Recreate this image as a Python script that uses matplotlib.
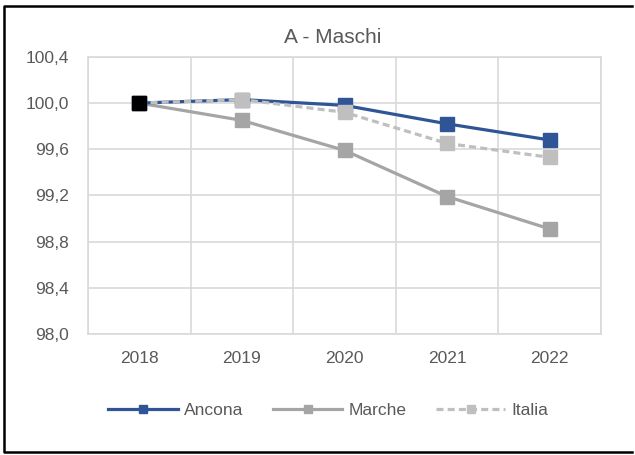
import numpy as np
import matplotlib
matplotlib.use("Agg")
import matplotlib.pyplot as plt
from matplotlib.lines import Line2D

plt.rcParams["font.family"] = ["Liberation Sans", "DejaVu Sans"]

# dati
anni = ["2018", "2019", "2020", "2021", "2022"]
ancona = [100.0, 100.03, 99.98, 99.82, 99.68]
marche = [100.0, 99.85, 99.59, 99.19, 98.91]
italia = [100.0, 100.03, 99.92, 99.65, 99.53]
base_anno = 0
base_valore = 100.0
y_ticks = [98.0, 98.4, 98.8, 99.2, 99.6, 100.0, 100.4]

testo = "#595959"
blu = "#2f5597"
grigio = "#a5a5a5"
grigio_chiaro = "#bfbfbf"

fig = plt.figure(figsize=(6.35, 4.55), dpi=100)
ax = fig.add_axes([0.1386, 0.266, 0.808, 0.609])

x = np.arange(len(anni))
ax.plot(x, marche, color=grigio, lw=2.3, marker="s", ms=9.5, label="Marche", zorder=3)
ax.plot(x, ancona, color=blu, lw=2.3, marker="s", ms=9.5, label="Ancona", zorder=4)
ax.plot(x, italia, color=grigio_chiaro, lw=2.3, ls=(0, (2.2, 1.3)), marker="s", ms=9.5,
        label="Italia", zorder=5)
ax.plot([base_anno], [base_valore], color="black", marker="s", ms=9.5, ls="none", zorder=6)

ax.set_xlim(-0.5, len(anni) - 0.5)
ax.set_ylim(98.0, 100.4)
ax.set_yticks(y_ticks)
ax.set_yticklabels([f"{v:.1f}".replace(".", ",") for v in y_ticks])
ax.set_xticks(x)
ax.set_xticklabels(anni)
ax.set_xticks(np.arange(len(anni) + 1) - 0.5, minor=True)

ax.grid(True, axis="y", color="#d9d9d9", lw=1.2)
ax.grid(True, axis="x", which="minor", color="#d9d9d9", lw=1.2)
ax.set_axisbelow(True)
for s in ax.spines.values():
    s.set_color("#d9d9d9")
    s.set_linewidth(1.2)
ax.tick_params(axis="both", which="both", length=0, colors=testo, labelsize=12.5)
ax.tick_params(axis="x", pad=12)
ax.tick_params(axis="y", pad=14)

fig.text(0.524, 0.917, "A - Maschi", ha="center", va="center", fontsize=15, color=testo)

handles = [
    Line2D([], [], color=blu, lw=2.3, marker="s", ms=6),
    Line2D([], [], color=grigio, lw=2.3, marker="s", ms=6),
    Line2D([], [], color=grigio_chiaro, lw=2.3, ls=(0, (2.2, 1.3)), marker="s", ms=6),
]
fig.legend(handles, ["Ancona", "Marche", "Italia"], loc="center", ncol=3,
           bbox_to_anchor=(0.517, 0.097), frameon=False, fontsize=12.5,
           labelcolor=testo, handlelength=4.0, handletextpad=0.35, columnspacing=1.7)

# cornice
cornice = Line2D([0.995, 0.006, 0.006, 0.995], [0.986, 0.986, 0.007, 0.007],
                 transform=fig.transFigure, color="black", lw=1.8)
fig.add_artist(cornice)

fig.savefig("out.png", dpi=100)
